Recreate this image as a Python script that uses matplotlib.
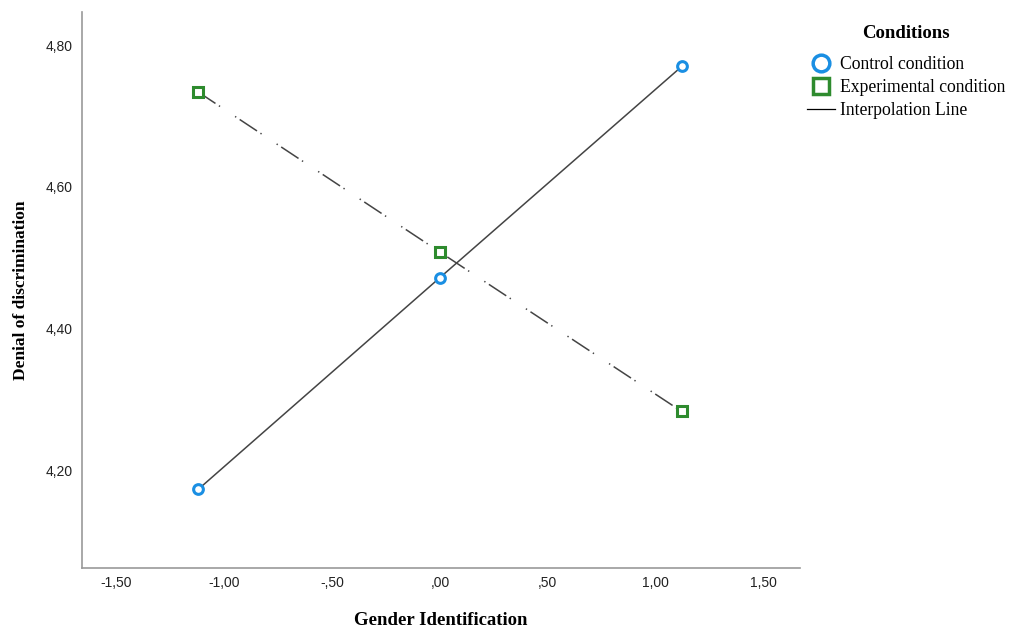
import matplotlib.pyplot as plt
from matplotlib.lines import Line2D

gender_id = [-1.12, 0.0, 1.12]
control = [4.173, 4.472, 4.770]
experimental = [4.734, 4.508, 4.283]
x_ticks = [-1.5, -1.0, -0.5, 0.0, 0.5, 1.0, 1.5]
x_labels = ["-1,50", "-1,00", "-,50", ",00", ",50", "1,00", "1,50"]
y_ticks = [4.2, 4.4, 4.6, 4.8]
y_labels = ["4,20", "4,40", "4,60", "4,80"]

blue = "#1a8fe3"
green = "#2e8b2e"
line_col = "#444444"

fig = plt.figure(figsize=(10.15, 6.27), dpi=100)
ax = fig.add_axes([0.081, 0.094, 0.707, 0.887])

ax.plot(gender_id, control, color=line_col, lw=1.1, zorder=2)
# dash, gap, dot, long gap, dot, gap (scaled by linewidth)
ax.plot(gender_id, experimental, color=line_col, lw=1.1, zorder=2,
        dashes=(13.6, 2.7, 0.9, 11.8, 0.9, 2.7))
ax.plot(gender_id, control, ls="none", marker="o", ms=7, mfc="white",
        mec=blue, mew=2.2, zorder=3)
ax.plot(gender_id, experimental, ls="none", marker="s", ms=7, mfc="white",
        mec=green, mew=2.2, zorder=3)

ax.set_xlim(-1.657, 1.667)
ax.set_ylim(4.062, 4.847)
ax.set_xticks(x_ticks)
ax.set_xticklabels(x_labels)
ax.set_yticks(y_ticks)
ax.set_yticklabels(y_labels)
ax.tick_params(length=0, labelsize=10)
ax.tick_params(axis="x", pad=6)
ax.tick_params(axis="y", pad=7)
for lab in ax.get_xticklabels() + ax.get_yticklabels():
    lab.set_family("Liberation Sans")
    lab.set_color("#222222")

for s in ["top", "right"]:
    ax.spines[s].set_visible(False)
for s in ["left", "bottom"]:
    ax.spines[s].set_color("#999999")
    ax.spines[s].set_linewidth(1.2)

ax.set_xlabel("Gender Identification", family="Liberation Serif",
              fontweight="bold", fontsize=13.5, va="center")
ax.xaxis.set_label_coords(0.5, -0.0935)
ax.set_ylabel("Denial of discrimination", family="Liberation Serif",
              fontweight="bold", fontsize=12.5, va="center")
ax.yaxis.set_label_coords(-0.086, 0.5)

handles = [
    Line2D([], [], ls="none", marker="o", ms=12, mfc="white", mec=blue, mew=2.5),
    Line2D([], [], ls="none", marker="s", ms=12, mfc="white", mec=green, mew=2.5),
    Line2D([], [], color="black", lw=0.9),
]
leg = fig.legend(handles, ["Control condition", "Experimental condition",
                           "Interpolation Line"],
                 loc="upper left", bbox_to_anchor=(0.779, 0.985),
                 frameon=False, title="Conditions", handlelength=1.6,
                 handletextpad=0.3, labelspacing=0.33,
                 prop={"family": "Liberation Serif", "size": 12.7})
leg.get_title().set_fontproperties({"family": "Liberation Serif",
                                    "weight": "bold", "size": 13.5})
leg._legend_box.sep = 10

fig.savefig("out.png", dpi=100)
